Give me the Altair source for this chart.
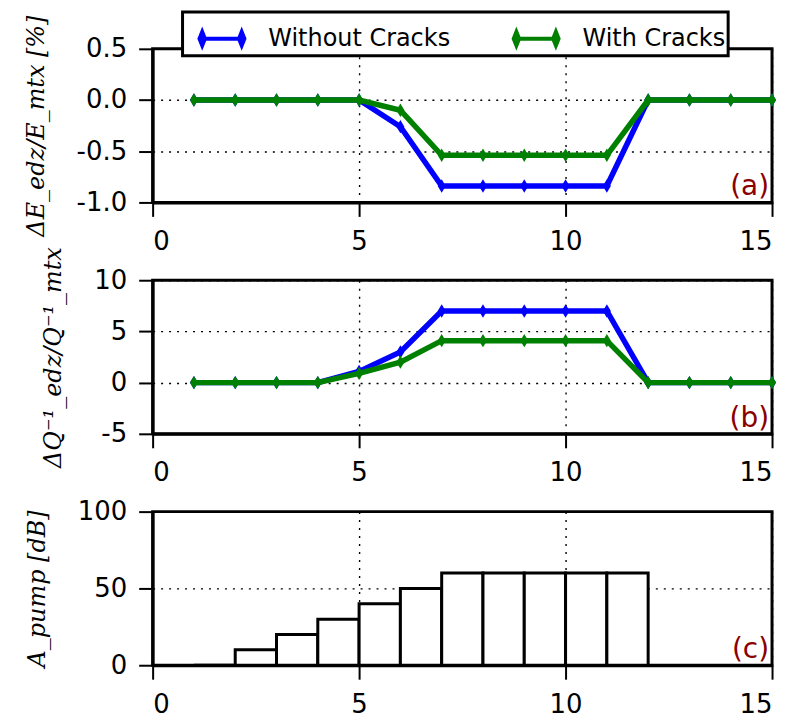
import altair as alt
import pandas as pd

# ---------------- data ----------------
steps = list(range(1, 16))
series_names = ["Without Cracks", "With Cracks"]
series_colors = ["#0000ff", "#008000"]

dE_without = [0, 0, 0, 0, 0, -0.26, -0.84, -0.84, -0.84, -0.84, -0.84, 0, 0, 0, 0]
dE_with = [0, 0, 0, 0, 0, -0.10, -0.54, -0.54, -0.54, -0.54, -0.54, 0, 0, 0, 0]

dQ_without = [0, 0, 0, 0, 1.1, 3.0, 7.0, 7.0, 7.0, 7.0, 7.0, 0, 0, 0, 0]
dQ_with = [0, 0, 0, 0, 0.9, 2.0, 4.1, 4.1, 4.1, 4.1, 4.1, 0, 0, 0, 0]

bar_start = list(range(1, 12))
bar_end = list(range(2, 13))
amp_db = [0, 10, 20, 30, 40, 50, 60, 60, 60, 60, 60]

x_ticks = [0, 5, 10, 15]
yticks_a = [-1.0, -0.5, 0.0, 0.5]
yticks_b = [-5, 0, 5, 10]
yticks_c = [0, 50, 100]

FONT = "DejaVu Sans"
W, H = 621, 154

diamond = "M0,-1L0.6,0L0,1L-0.6,0Z"
legend_symbol = ("M-1,0L1,0"
                 "M-1,0L-0.88,-0.3L-0.76,0L-0.88,0.3Z"
                 "M1,0L0.88,-0.3L0.76,0L0.88,0.3Z")

color_scale = alt.Scale(domain=series_names, range=series_colors)


def long_df(a, b):
    rows = []
    for name, vals in zip(series_names, [a, b]):
        for s, v in zip(steps, vals):
            rows.append({"step": s, "series": name, "value": v})
    return pd.DataFrame(rows)


def x_enc():
    return alt.X("step:Q", scale=alt.Scale(domain=[0, 15], nice=False),
                 axis=alt.Axis(values=x_ticks, title=None, format="d"))


def line_panel(df, dom, yvals, title, label, label_expr, legend):
    y = alt.Y("value:Q", scale=alt.Scale(domain=dom, nice=False),
              axis=alt.Axis(values=yvals, title=title, labelExpr=label_expr))
    layers = []
    for name in series_names:
        base = alt.Chart(df).transform_filter(alt.datum.series == name)
        col = alt.Color("series:N", scale=color_scale, sort=series_names, legend=legend)
        layers.append(base.mark_line(strokeWidth=5.5).encode(x=x_enc(), y=y, color=col))
        layers.append(base.mark_point(shape=diamond, size=180, filled=True, opacity=1).encode(
            x=x_enc(), y=y, color=col))
    txt = alt.Chart(pd.DataFrame({"t": [label]})).mark_text(
        align="right", baseline="bottom", dx=-3, dy=-1, fontSize=28, font=FONT, color="#8b0000"
    ).encode(x=alt.datum(15), y=alt.datum(dom[0]), text="t:N")
    layers.append(txt)
    return alt.layer(*layers).properties(width=W, height=H)


neg_fmt = "datum.value < 0 ? '-' + format(abs(datum.value), '{f}') : format(datum.value, '{f}')"

legend_a = alt.Legend(
    title=None, orient="none", legendX=30, legendY=-37, direction="horizontal", columns=2,
    symbolType=legend_symbol, symbolSize=2025, symbolStrokeWidth=4,
    labelFontSize=24, labelFont=FONT, labelColor="black", labelOffset=22, labelLimit=400,
    columnPadding=48, fillColor="white", strokeColor="black", padding=2, symbolOffset=13,
)

panel_a = line_panel(long_df(dE_without, dE_with), [-1.0, 0.5], yticks_a,
                     "ΔE_edz/E_mtx [%]", "(a)", neg_fmt.format(f=".1f"), legend_a)
panel_b = line_panel(long_df(dQ_without, dQ_with), [-5, 10], yticks_b,
                     "ΔQ⁻¹_edz/Q⁻¹_mtx", "(b)", neg_fmt.format(f="d"), None)

bars_df = pd.DataFrame({"x0": bar_start, "x1": bar_end, "amp": amp_db})
bars = alt.Chart(bars_df).mark_rect(fill="white", stroke="black", strokeWidth=3).encode(
    x=alt.X("x0:Q", scale=alt.Scale(domain=[0, 15], nice=False),
            axis=alt.Axis(values=x_ticks, title=None, format="d")),
    x2="x1:Q",
    y=alt.Y("amp:Q", scale=alt.Scale(domain=[0, 100], nice=False),
            axis=alt.Axis(values=yticks_c, title="A_pump  [dB]", format="d")),
    y2=alt.datum(0),
)
txt_c = alt.Chart(pd.DataFrame({"t": ["(c)"]})).mark_text(
    align="right", baseline="bottom", dx=-3, dy=-1, fontSize=28, font=FONT, color="#8b0000"
).encode(x=alt.datum(15), y=alt.datum(0), text="t:N")
panel_c = alt.layer(bars, txt_c).properties(width=W, height=H)

chart = alt.vconcat(panel_a, panel_b, panel_c, spacing=78, bounds="flush").resolve_legend(
    color="independent"
).properties(
    padding={"left": 14, "top": 0, "right": 0, "bottom": 2}
).configure_view(
    stroke="black", strokeWidth=3
).configure_axis(
    grid=True, gridColor="black", gridDash=[2, 6], gridWidth=1.4, gridOpacity=1,
    domainColor="black", domainWidth=3, tickColor="black", tickWidth=2, tickSize=14,
    labelFont=FONT, labelFontSize=26, labelColor="black", labelPadding=12,
    titleFont="DejaVu Serif", titleFontStyle="italic", titleFontWeight="normal",
    titleFontSize=24, titleColor="black", titlePadding=28,
).configure_legend(
    strokeWidth=3
)

chart.save("out.html", embed_options={"renderer": "svg", "actions": False})
